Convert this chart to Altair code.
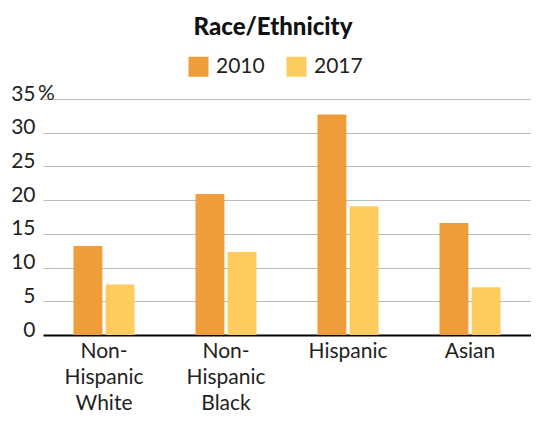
import altair as alt
import pandas as pd

categories = ["Non-Hispanic White", "Non-Hispanic Black", "Hispanic", "Asian"]
years = ["2010", "2017"]
values_2010 = [13.2, 20.9, 32.7, 16.6]
values_2017 = [7.5, 12.3, 19.1, 7.1]
y_ticks = [0, 5, 10, 15, 20, 25, 30, 35]
colors = ["#EF9C3A", "#FECC5C"]

rows = []
for c, a, b in zip(categories, values_2010, values_2017):
    rows.append({"category": c, "year": "2010", "value": a})
    rows.append({"category": c, "year": "2017", "value": b})
df = pd.DataFrame(rows)

FONT = "Lato"
FS = 21
TXT = "#231f20"

label_expr = ("indexof(datum.value, 'Non-Hispanic ') == 0 ? "
              "['Non-', 'Hispanic', replace(datum.value, 'Non-Hispanic ', '')] : datum.value")

y_axis = alt.Axis(title=None, values=y_ticks, domain=False, ticks=False,
                  tickSize=0, labelPadding=8, labelOffset=-5,
                  labelOverlap=False, labelFont=FONT, labelFontSize=FS,
                  labelColor=TXT, gridColor="#BBBBBB", gridWidth=1)
y_scale = alt.Scale(domain=[0, 35])

bars = alt.Chart(df).mark_bar().encode(
    x=alt.X("category:N", sort=categories,
            scale=alt.Scale(paddingInner=0.5, paddingOuter=0.25),
            axis=alt.Axis(title=None, labelAngle=0, labelExpr=label_expr,
                          labelFont=FONT, labelFontSize=FS, labelColor=TXT,
                          labelLineHeight=26, labelPadding=5, labelBaseline="top",
                          ticks=False, tickSize=0, domainColor="#000000",
                          domainWidth=2, grid=False, labelOverlap=False)),
    xOffset=alt.XOffset("year:N", sort=years, scale=alt.Scale(paddingInner=0.1)),
    y=alt.Y("value:Q", scale=y_scale, axis=y_axis),
    color=alt.Color("year:N", sort=years,
                    scale=alt.Scale(domain=years, range=colors),
                    legend=alt.Legend(title=None, orient="none", legendX=145,
                                      legendY=-43, direction="horizontal",
                                      symbolType="square", symbolSize=400,
                                      symbolStrokeWidth=0, symbolOpacity=1,
                                      labelFont=FONT, labelFontSize=FS,
                                      labelColor=TXT, columnPadding=21,
                                      labelOffset=7, padding=0)),
)

pct = alt.Chart(pd.DataFrame({"value": [35]})).mark_text(
    text="%", align="left", baseline="middle", font=FONT, fontSize=FS,
    color=TXT, dx=-5, dy=-5
).encode(x=alt.value(0), y=alt.Y("value:Q", scale=y_scale, axis=y_axis))

chart = alt.layer(bars, pct).properties(
    width=488, height=236,
    title=alt.TitleParams("Race/Ethnicity", font=FONT, fontSize=24,
                          fontWeight=900, color="#111111", anchor="middle",
                          dx=-14, offset=16),
    padding={"left": 35, "top": 91, "right": 0, "bottom": 78},
    autosize=alt.AutoSizeParams(type="none"),
).configure_view(stroke=None)

chart.save("out.html", embed_options={"renderer": "svg", "actions": False})
